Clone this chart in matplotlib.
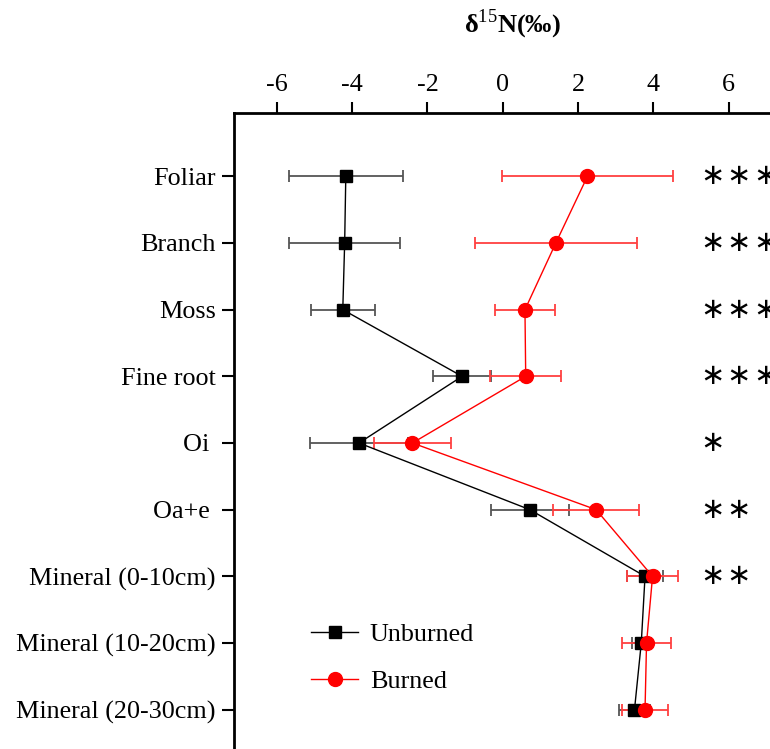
import matplotlib
matplotlib.use("Agg")
import matplotlib.pyplot as plt

# categories, top to bottom
pools = ["Foliar", "Branch", "Moss", "Fine root", "Oi ", "Oa+e ",
         "Mineral (0-10cm)", "Mineral (10-20cm)", "Mineral (20-30cm)"]

# d15N means and error (permil)
unburned = [-4.17, -4.20, -4.25, -1.08, -3.82, 0.72, 3.78, 3.68, 3.50]
unburned_err = [1.52, 1.48, 0.85, 0.78, 1.30, 1.04, 0.48, 0.25, 0.40]
burned = [2.25, 1.41, 0.59, 0.61, -2.40, 2.48, 3.98, 3.82, 3.78]
burned_err = [2.27, 2.16, 0.79, 0.94, 1.03, 1.15, 0.67, 0.65, 0.60]

# significance marks per pool
signif = ["***", "***", "***", "***", "*", "**", "**", "", ""]

xticks = [-6, -4, -2, 0, 2, 4, 6]

plt.rcParams['font.family'] = ['Liberation Serif', 'DejaVu Serif']
plt.rcParams['mathtext.fontset'] = 'custom'
plt.rcParams['mathtext.rm'] = 'Liberation Serif'
plt.rcParams['mathtext.bf'] = 'Liberation Serif:bold'

fig = plt.figure(figsize=(7.7, 7.49), dpi=100)
ax = fig.add_axes([234 / 770, 0, 1 - 234 / 770, (749 - 113) / 749])

ys = list(range(len(pools)))

ax.errorbar(unburned, ys, xerr=unburned_err, fmt='none', ecolor='#555555',
            elinewidth=1.3, capsize=4.3, capthick=1.3, zorder=2)
ax.errorbar(burned, ys, xerr=burned_err, fmt='none', ecolor='#ff4040',
            elinewidth=1.3, capsize=4.3, capthick=1.3, zorder=3)
ax.plot(unburned, ys, '-s', color='black', lw=1, ms=8.5, label='Unburned', zorder=4)
ax.plot(burned, ys, '-o', color='#ff0000', lw=1, ms=10, label='Burned', zorder=5)

# asterisks, one text per star
for i, s in enumerate(signif):
    for k in range(len(s)):
        ax.text(5.56 + 0.71 * k, i, "\u2217", family='DejaVu Sans',
                fontsize=21, va='center', ha='center')

ax.set_xlim(-7.14, 7.1)
ax.set_ylim(8.59, -0.95)

ax.xaxis.tick_top()
ax.set_xticks(xticks)
ax.set_xticklabels([str(t) for t in xticks])
ax.set_yticks(ys)
ax.set_yticklabels(pools)
ax.tick_params(axis='x', direction='out', length=8, width=1.5, labelsize=18.8, pad=4)
ax.tick_params(axis='y', direction='out', length=9, width=1.5, labelsize=18.8, pad=4)

ax.spines['right'].set_visible(False)
ax.spines['bottom'].set_visible(False)
ax.spines['left'].set_linewidth(2)
ax.spines['top'].set_linewidth(2)

fig.text(512 / 770, 1 - 24 / 749, "δ$^{15}$N(‰)", fontsize=19, fontweight='bold',
         ha='center', va='center')

ax.legend(loc='upper left', bbox_to_anchor=(0.1, 0.235), frameon=False,
          fontsize=18.8, handlelength=1.8, handletextpad=0.45, labelspacing=0.9)

fig.savefig("out.png", dpi=100)
